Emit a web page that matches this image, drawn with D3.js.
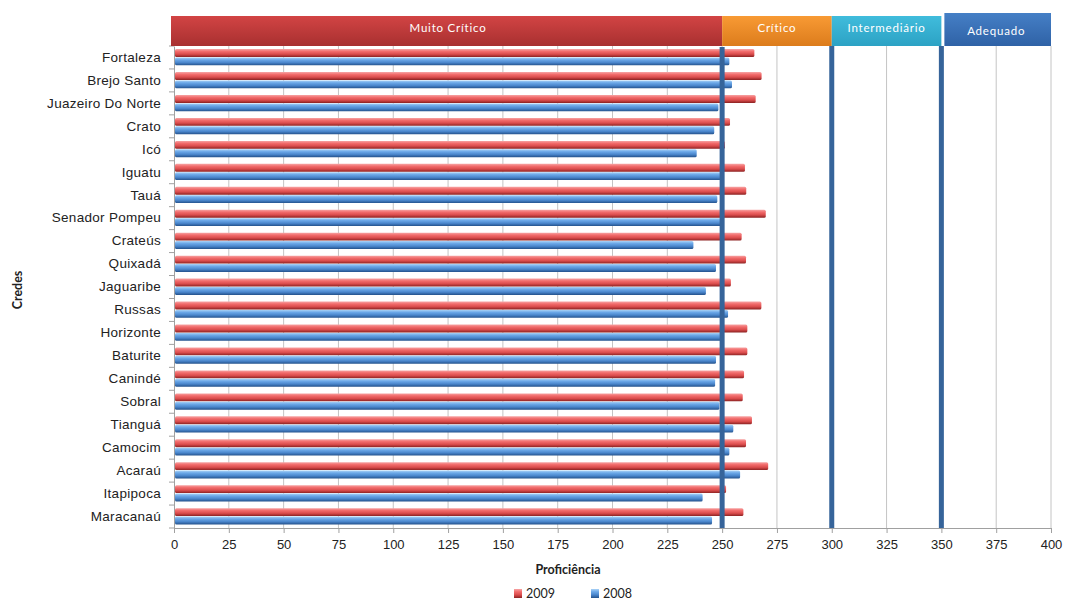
<!DOCTYPE html>
<html>
<head>
<meta charset="utf-8">
<script src="https://cdn.jsdelivr.net/npm/d3@7"></script>
<style>
  body { margin: 0; background: #fff; }
  svg { font-family: Lato, "Open Sans", sans-serif; }
</style>
</head>
<body>
<svg width="1067" height="601"></svg>
<script>
// data
const categories = ["Fortaleza", "Brejo Santo", "Juazeiro Do Norte", "Crato", "Icó", "Iguatu", "Tauá",
  "Senador Pompeu", "Crateús", "Quixadá", "Jaguaribe", "Russas", "Horizonte", "Baturite", "Canindé",
  "Sobral", "Tianguá", "Camocim", "Acaraú", "Itapipoca", "Maracanaú"];
const v2009 = [264.7, 268, 265.3, 253.6, 251.3, 260.4, 261, 269.9, 258.9, 260.9, 254, 267.9,
  261.5, 261.5, 260, 259.4, 263.6, 260.9, 271, 251.8, 259.7];
const v2008 = [253.3, 254.5, 248.3, 246.4, 238.4, 249.7, 247.8, 249.5, 236.9, 247.2, 242.6, 252.7,
  250.3, 247.2, 246.8, 248.7, 255.1, 253.3, 258.2, 241.1, 245.4];
const xTicks = [0, 25, 50, 75, 100, 125, 150, 175, 200, 225, 250, 275, 300, 325, 350, 375, 400];
const bandLabels = ["Muito Crítico", "Crítico", "Intermediário", "Adequado"];
const bandLimits = [0, 250, 300, 350, 400];
const cutLines = [250, 300, 350];
const seriesNames = ["2009", "2008"];

const svg = d3.select("svg");
const pLeft = 174, pRight = 1051, pTop = 46, pBottom = 528;

const x = d3.scaleLinear().domain([0, 400]).range([pLeft, pRight]);
const y = d3.scaleBand().domain(categories).range([pTop, pBottom]).paddingInner(0.27).paddingOuter(0.135);
const sub = d3.scaleBand().domain(seriesNames).range([0, y.bandwidth()]);

// gradients
const defs = svg.append("defs");
function grad(id, stops) {
  const g = defs.append("linearGradient").attr("id", id).attr("x1", 0).attr("y1", 0).attr("x2", 0).attr("y2", 1);
  stops.forEach(s => g.append("stop").attr("offset", s[0]).attr("stop-color", s[1]));
}
grad("gRed", [[0, "#f6a4a4"], [0.3, "#f26c6c"], [0.65, "#da4c4c"], [1, "#8c2222"]]);
grad("gBlue", [[0, "#aad2f6"], [0.3, "#6ca8e8"], [0.65, "#4a86cc"], [1, "#24528c"]]);
const bandGrads = [["#d24444", "#a83030"], ["#f89a34", "#dc7c1c"], ["#40bcdc", "#2ca2c4"], ["#457fc6", "#2f62a6"]];
bandGrads.forEach((c, i) => grad("gBand" + i, [[0, c[0]], [1, c[1]]]));

// gridlines
svg.append("g").selectAll("line").data(xTicks.slice(1)).join("line")
  .attr("x1", d => x(d)).attr("x2", d => x(d))
  .attr("y1", pTop).attr("y2", pBottom)
  .attr("stroke", "#c4c4c4").attr("stroke-width", 1);

// axes
const xAxis = d3.axisBottom(x).tickValues(xTicks).tickSize(5).tickFormat(d3.format("d"));
const gx = svg.append("g").attr("transform", `translate(0,${pBottom})`).call(xAxis);
gx.select(".domain").attr("stroke", "#a0a0a0");
gx.selectAll(".tick line").attr("stroke", "#a0a0a0");
gx.selectAll("text").attr("font-size", 13).attr("fill", "#222").attr("dy", "1.0em");

const yAxis = d3.axisLeft(y).tickSize(0).tickPadding(13);
const gy = svg.append("g").attr("transform", `translate(${pLeft},0)`).call(yAxis);
gy.select(".domain").attr("stroke", "#a0a0a0");
gy.selectAll("text").attr("font-size", 13.5).attr("letter-spacing", 0.3).attr("fill", "#222");
// category separators
svg.append("g").selectAll("line").data(d3.range(categories.length + 1)).join("line")
  .attr("x1", pLeft - 5).attr("x2", pLeft)
  .attr("y1", i => pTop + i * (pBottom - pTop) / categories.length)
  .attr("y2", i => pTop + i * (pBottom - pTop) / categories.length)
  .attr("stroke", "#a0a0a0");

// bars
const rows = categories.map((c, i) => ({ c, vals: [v2009[i], v2008[i]] }));
const g = svg.append("g").selectAll("g").data(rows).join("g")
  .attr("transform", d => `translate(0,${y(d.c)})`);
g.selectAll("rect").data(d => d.vals.map((v, k) => ({ v, k }))).join("rect")
  .attr("x", x(0) + 1)
  .attr("y", d => sub(seriesNames[d.k]))
  .attr("width", d => x(d.v) - x(0) - 1)
  .attr("height", sub.bandwidth() - 0.5)
  .attr("rx", 1.5)
  .attr("fill", d => d.k === 0 ? "url(#gRed)" : "url(#gBlue)");

// level bands on top
const bands = bandLabels.map((l, i) => ({ l, i, a: bandLimits[i], b: bandLimits[i + 1] }));
svg.append("g").selectAll("rect").data(bands).join("rect")
  .attr("x", d => d.i === 0 ? x(d.a) - 3 : (d.i === 3 ? x(d.a) + 3 : x(d.a)))
  .attr("y", d => d.i === 3 ? 13 : 16)
  .attr("width", d => x(d.b) - x(d.a) + (d.i === 0 ? 3 : (d.i === 3 ? -3 : 0)))
  .attr("height", d => d.i === 3 ? 33 : 30)
  .attr("fill", d => `url(#gBand${d.i})`);
svg.append("g").selectAll("text").data(bands).join("text")
  .attr("x", d => (x(d.a) + x(d.b)) / 2)
  .attr("y", d => d.i === 3 ? 35 : 32)
  .attr("text-anchor", "middle")
  .attr("font-size", 11.5)
  .attr("letter-spacing", 0.8)
  .attr("fill", "#fff")
  .text(d => d.l);

// cut lines
svg.append("g").selectAll("line").data(cutLines).join("line")
  .attr("x1", d => x(d)).attr("x2", d => x(d))
  .attr("y1", d => d === 250 ? pTop + 1 : pTop).attr("y2", pBottom)
  .attr("stroke", "#36649a").attr("stroke-width", 5);

// titles
svg.append("text").attr("x", 568).attr("y", 574).attr("text-anchor", "middle")
  .attr("font-size", 12.5).attr("font-weight", "bold").attr("fill", "#222").text("Proficiência");
svg.append("text").attr("transform", "translate(22,290) rotate(-90)").attr("text-anchor", "middle")
  .attr("font-size", 12.5).attr("font-weight", "bold").attr("fill", "#222").text("Credes");

// legend
const lg = svg.append("g").selectAll("g").data(seriesNames).join("g")
  .attr("transform", (d, i) => `translate(${514 + i * 77},590)`);
lg.append("rect").attr("width", 8).attr("height", 9).attr("y", -1)
  .attr("fill", (d, i) => i === 0 ? "url(#gRed)" : "url(#gBlue)");
lg.append("text").attr("x", 12).attr("y", 8).attr("font-size", 12.5).attr("fill", "#222").text(d => d);
</script>
</body>
</html>
